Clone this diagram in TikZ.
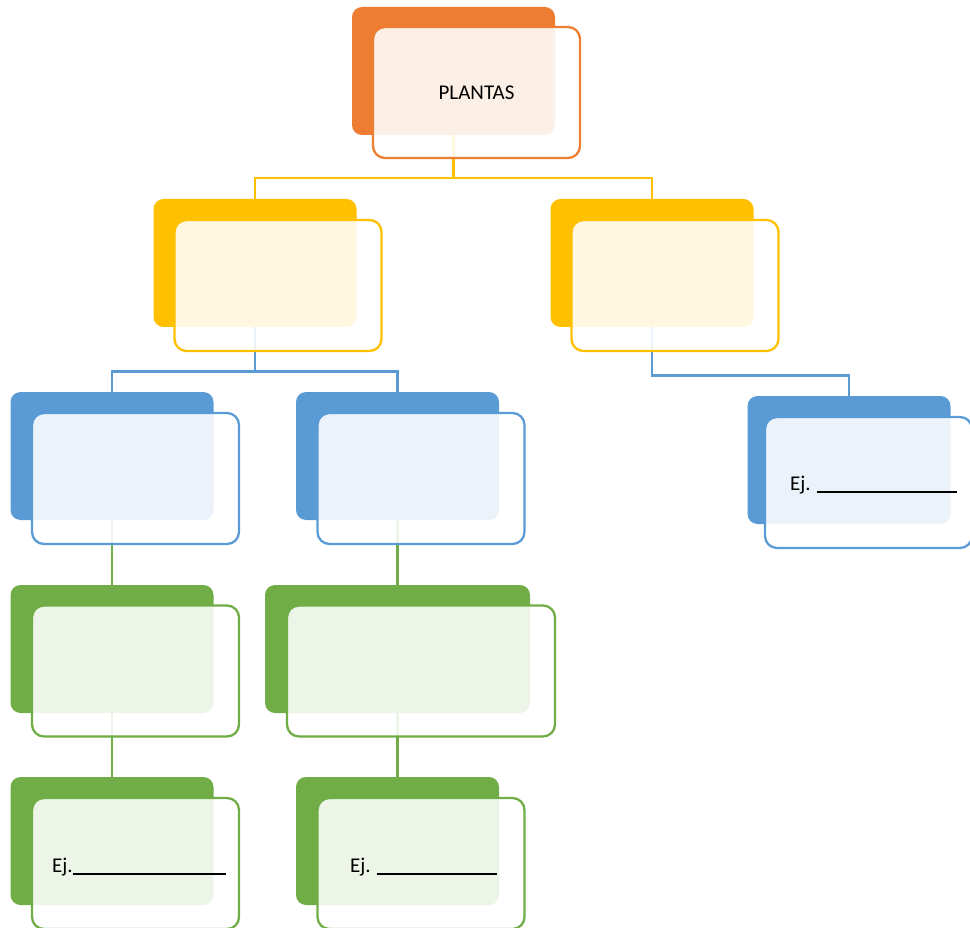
\documentclass[tikz,border=0pt]{standalone}
\usepackage{fontspec}
\setmainfont{Carlito}
\definecolor{orgC}{HTML}{ED7D31}
\definecolor{gldC}{HTML}{FFC000}
\definecolor{bluC}{HTML}{5B9BD5}
\definecolor{grnC}{HTML}{70AD47}
\newcommand{\ej}[1]{Ej.\rule[-2.5pt]{#1pt}{2pt}}

\begin{document}
\begin{tikzpicture}[x=1pt,y=-1pt,
   backbox/.style={rounded corners=10pt,minimum width=203pt,minimum height=128pt,inner sep=0pt},
   frontbox/.style={draw=#1,line width=2.3pt,rounded corners=12pt,fill=white,fill opacity=0.88,
                    text opacity=1,minimum width=207pt,minimum height=131pt,inner sep=0pt,
                    font=\fontsize{21}{25}\selectfont},
   link/.style={draw=#1,line width=2.6pt},
   ejtext/.style={anchor=base west,inner sep=0pt,font=\fontsize{21}{25}\selectfont}]
 %  \draw[gray] (0,0) rectangle (970,928);
   \useasboundingbox (0,0) rectangle (970,928);
   % back boxes
   \node[backbox,fill=orgC] (plB)  at (453.5, 71) {};
   \node[backbox,fill=gldC] (y1B)  at (255,  263) {};
   \node[backbox,fill=gldC] (y2B)  at (652,  263) {};
   \node[backbox,fill=bluC] (b1B)  at (112,  456) {};
   \node[backbox,fill=bluC] (b2B)  at (397.5,456) {};
   \node[backbox,fill=bluC] (b3B)  at (849,  460) {};
   \node[backbox,fill=grnC] (g1B)  at (112,  649) {};
   \node[backbox,fill=grnC,minimum width=265pt] (g2B) at (397.5,649) {};
   \node[backbox,fill=grnC] (e1B)  at (112,  841) {};
   \node[backbox,fill=grnC] (e2B)  at (397.5,841) {};
   % connectors
   \draw[link=gldC] (plB.south) -- ++(0,43) -| (y1B.north);
   \draw[link=gldC] (plB.south) -- ++(0,43) -| (y2B.north);
   \draw[link=bluC] (y1B.south) -- ++(0,44) -| (b1B.north);
   \draw[link=bluC] (y1B.south) -- ++(0,44) -| (b2B.north);
   \draw[link=bluC] (y2B.south) -- ++(0,48) -| (b3B.north);
   \draw[link=grnC] (b1B.south) -- (g1B.north);
   \draw[link=grnC] (b2B.south) -- (g2B.north);
   \draw[link=grnC] (g1B.south) -- (e1B.north);
   \draw[link=grnC] (g2B.south) -- (e2B.north);
   % front boxes
   \node[frontbox=orgC] (pl) at (476.5, 92.5) {PLANTAS};
   \node[frontbox=gldC] (y1) at (278,  285.5) {};
   \node[frontbox=gldC] (y2) at (675,  285.5) {};
   \node[frontbox=bluC] (b1) at (135.5,478.5) {};
   \node[frontbox=bluC] (b2) at (421,  478.5) {};
   \node[frontbox=bluC] (b3) at (868.5,482.5) {};
   \node[frontbox=grnC] (g1) at (135.5,671) {};
   \node[frontbox=grnC,minimum width=268pt] (g2) at (421,671) {};
   \node[frontbox=grnC] (e1) at (135.5,863.5) {};
   \node[frontbox=grnC] (e2) at (421,  863.5) {};
   % examples
   \node[ejtext] (ej1) at (52, 872) {\ej{153}};
   \node[ejtext] (ej2) at (350,872) {Ej. \rule[-2.5pt]{120pt}{2pt}};
   \node[ejtext] (ej3) at (790,490) {Ej. \rule[-2.5pt]{140pt}{2pt}};
\end{tikzpicture}
\end{document}
